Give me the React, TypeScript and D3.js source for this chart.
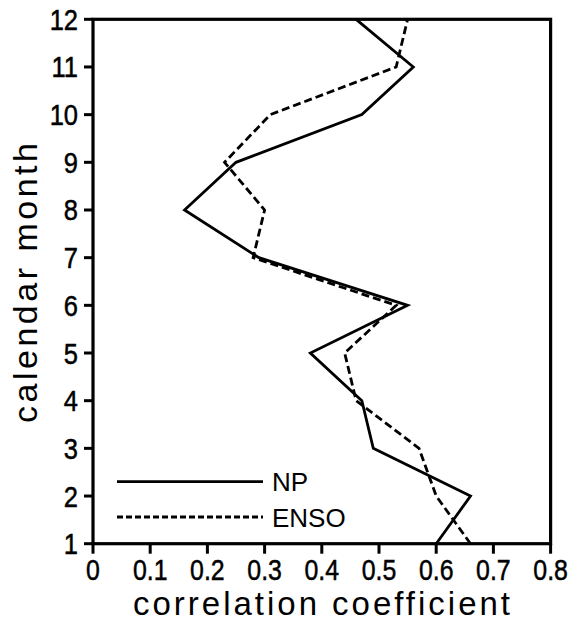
import React, { useEffect, useRef } from "react";
import * as d3 from "d3";

// months on the y axis, correlation per month
const months = [1, 2, 3, 4, 5, 6, 7, 8, 9, 10, 11, 12];
const npValues = [0.6, 0.66, 0.49, 0.47, 0.38, 0.55, 0.29, 0.16, 0.25, 0.47, 0.56, 0.46];
const ensoValues = [0.66, 0.6, 0.57, 0.46, 0.44, 0.53, 0.28, 0.3, 0.23, 0.31, 0.53, 0.55];
const xTicks = [0, 0.1, 0.2, 0.3, 0.4, 0.5, 0.6, 0.7, 0.8];
const seriesNames = ["NP", "ENSO"];

const W = 575;
const H = 621;
const FONT = "'Liberation Sans', Arial, Helvetica, sans-serif";

export default function App() {
  const ref = useRef<SVGSVGElement>(null);

  useEffect(() => {
    const svg = d3.select(ref.current);
    svg.selectAll("*").remove();

    const x = d3.scaleLinear().domain([0, 0.8]).range([93, 550.6]);
    const y = d3.scaleLinear().domain([1, 12]).range([543.7, 19.3]);

    // series lines
    const line = d3
      .line<number>()
      .x((d) => x(d))
      .y((_, i) => y(months[i]));

    svg.append("path")
      .attr("d", line(ensoValues))
      .attr("fill", "none")
      .attr("stroke", "#000")
      .attr("stroke-width", 2.8)
      .attr("stroke-dasharray", "8,4");

    svg.append("path")
      .attr("d", line(npValues))
      .attr("fill", "none")
      .attr("stroke", "#000")
      .attr("stroke-width", 2.8);

    // frame
    svg.append("rect")
      .attr("x", x(0))
      .attr("y", y(12))
      .attr("width", x(0.8) - x(0))
      .attr("height", y(1) - y(12))
      .attr("fill", "none")
      .attr("stroke", "#000")
      .attr("stroke-width", 3.2);

    // x ticks
    const xt = svg.append("g");
    xTicks.forEach((t) => {
      xt.append("line")
        .attr("x1", x(t)).attr("x2", x(t))
        .attr("y1", y(1)).attr("y2", y(1) + 10)
        .attr("stroke", "#000").attr("stroke-width", 3);
      xt.append("text")
        .attr("transform", `translate(${x(t)},580) scale(0.83,1)`)
        .attr("text-anchor", "middle")
        .attr("font-family", FONT)
        .attr("font-size", 30)
        .attr("stroke", "#000")
        .attr("stroke-width", 0.5)
        .text(t === 0 ? "0" : String(t));
    });

    // y ticks
    const yt = svg.append("g");
    months.forEach((m) => {
      yt.append("line")
        .attr("x1", x(0) - 9).attr("x2", x(0))
        .attr("y1", y(m)).attr("y2", y(m))
        .attr("stroke", "#000").attr("stroke-width", 3);
      yt.append("text")
        .attr("transform", `translate(78,${y(m) + 10.5}) scale(0.85,1)`)
        .attr("text-anchor", "end")
        .attr("font-family", FONT)
        .attr("font-size", 30)
        .attr("stroke", "#000")
        .attr("stroke-width", 0.5)
        .text(String(m));
    });

    // axis titles
    svg.append("text")
      .attr("x", 133)
      .attr("y", 615)
      .attr("font-family", FONT)
      .attr("font-size", 33)
      .attr("textLength", 377)
      .attr("lengthAdjust", "spacing")
      .text("correlation coefficient");

    svg.append("text")
      .attr("transform", "translate(37,423) rotate(-90)")
      .attr("font-family", FONT)
      .attr("font-size", 34)
      .attr("textLength", 280)
      .attr("lengthAdjust", "spacing")
      .text("calendar month");

    // legend
    const legY = [481.7, 517];
    seriesNames.forEach((name, i) => {
      svg.append("line")
        .attr("x1", 117).attr("x2", 263)
        .attr("y1", legY[i]).attr("y2", legY[i])
        .attr("stroke", "#000")
        .attr("stroke-width", 2.8)
        .attr("stroke-dasharray", i === 1 ? "6,3" : null);
      svg.append("text")
        .attr("x", 272)
        .attr("y", legY[i] + 9.5)
        .attr("font-family", FONT)
        .attr("font-size", 26)
        .text(name);
    });
  }, []);

  return (
    <svg
      ref={ref}
      width={W}
      height={H}
      style={{ position: "absolute", left: 0, top: 0, background: "#fff" }}
    />
  );
}
